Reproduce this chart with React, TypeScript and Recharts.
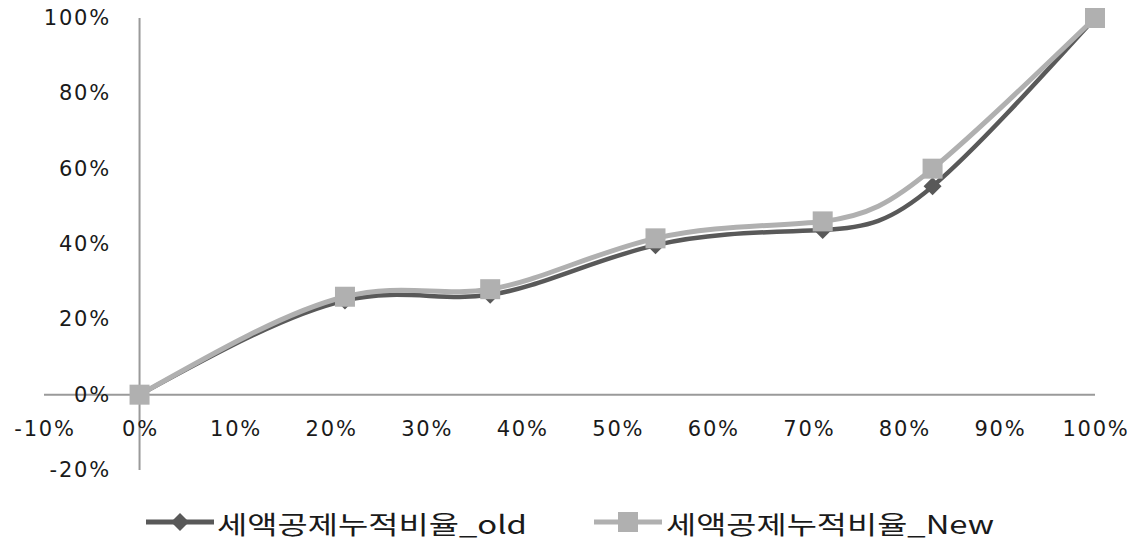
import { LineChart, Line, XAxis, YAxis, ReferenceLine, Legend } from "recharts";

// x: share of taxpayers (cumulative %), y: cumulative tax credit ratio (%)
const xShare = [0, 21.5, 36.7, 54, 71.5, 83, 100];
const oldRatio = [0, 25, 26.5, 39.7, 43.7, 55.3, 100];
const newRatio = [0, 26, 28, 41.5, 46, 60, 100];

const xTicks = [-10, 0, 10, 20, 30, 40, 50, 60, 70, 80, 90, 100];
const yTicks = [-20, 0, 20, 40, 60, 80, 100];

const seriesNames = ["세액공제누적비율_old", "세액공제누적비율_New"];
const seriesColors = ["#595959", "#b0b0b0"];

const chartData = xShare.map((x, i) => ({
  x,
  old: oldRatio[i],
  new: newRatio[i],
}));

const tickFont = {
  fontFamily: "'DejaVu Sans', Verdana, sans-serif",
  fontSize: 21,
  letterSpacing: 1.8,
  fill: "#1a1a1a",
};

const XTick = (props: any) => {
  const { x, y, payload } = props;
  return (
    <text x={x + 1} y={y - 41} textAnchor="middle" dominantBaseline="central" {...tickFont}>
      {payload.value}%
    </text>
  );
};

const YTick = (props: any) => {
  const { x, y, payload } = props;
  return (
    <text x={x + 67} y={y} textAnchor="end" dominantBaseline="central" {...tickFont}>
      {payload.value}%
    </text>
  );
};

const Diamond = (props: any) => {
  const { cx, cy, index } = props;
  if (cx == null || cy == null) return null;
  const r = 9;
  return (
    <polygon
      key={`d-${index}`}
      points={`${cx},${cy - r} ${cx + r},${cy} ${cx},${cy + r} ${cx - r},${cy}`}
      fill={seriesColors[0]}
    />
  );
};

const Square = (props: any) => {
  const { cx, cy, index } = props;
  if (cx == null || cy == null) return null;
  return <rect key={`s-${index}`} x={cx - 10} y={cy - 10} width={20} height={20} fill={seriesColors[1]} />;
};

// legend items: [line start, line end, text start, text length]
const legendSlots = [
  [146, 214, 217, 310],
  [594, 662, 666, 328],
];

const LegendContent = () => (
  <svg width={1138} height={44}>
    {seriesNames.map((name, i) => {
      const [x1, x2, tx, len] = legendSlots[i];
      const mid = (x1 + x2) / 2;
      return (
        <g key={name}>
          <line x1={x1} x2={x2} y1={22} y2={22} stroke={seriesColors[i]} strokeWidth={5} />
          {i === 0 ? (
            <polygon points={`${mid},13 ${mid + 9},22 ${mid},31 ${mid - 9},22`} fill={seriesColors[0]} />
          ) : (
            <rect x={mid - 10} y={12} width={20} height={20} fill={seriesColors[1]} />
          )}
          <text
            x={tx}
            y={23}
            dominantBaseline="central"
            textLength={len}
            lengthAdjust="spacingAndGlyphs"
            fontFamily="'Noto Sans CJK KR', sans-serif"
            fontSize={25}
            fill="#1a1a1a"
          >
            {name}
          </text>
        </g>
      );
    })}
  </svg>
);

const App = () => {
  return (
    <div style={{ position: "absolute", left: 0, top: 0, background: "#fff" }}>
      <LineChart width={1138} height={540} data={chartData} margin={{ top: 18, right: 43, bottom: 69, left: 43 }}>
        <XAxis
          type="number"
          dataKey="x"
          domain={[-10, 100]}
          ticks={xTicks}
          interval={0}
          axisLine={false}
          tickLine={false}
          tickSize={0}
          tickMargin={0}
          height={1}
          tick={XTick}
        />
        <YAxis
          type="number"
          domain={[-20, 100]}
          ticks={yTicks}
          interval={0}
          axisLine={false}
          tickLine={false}
          tickSize={0}
          tickMargin={0}
          width={1}
          tick={YTick}
        />
        <ReferenceLine x={0} stroke="#9a9a9a" strokeWidth={2} />
        <ReferenceLine y={0} stroke="#9a9a9a" strokeWidth={2} />
        <Legend
          layout="horizontal"
          verticalAlign="middle"
          wrapperStyle={{ top: 500, left: 0, width: 1138, height: 44 }}
          content={LegendContent}
        />
        <Line
          type="natural"
          dataKey="old"
          name={seriesNames[0]}
          stroke={seriesColors[0]}
          strokeWidth={4.5}
          dot={Diamond}
          activeDot={false}
          isAnimationActive={false}
        />
        <Line
          type="natural"
          dataKey="new"
          name={seriesNames[1]}
          stroke={seriesColors[1]}
          strokeWidth={5}
          dot={Square}
          activeDot={false}
          isAnimationActive={false}
        />
      </LineChart>
    </div>
  );
};

export default App;
